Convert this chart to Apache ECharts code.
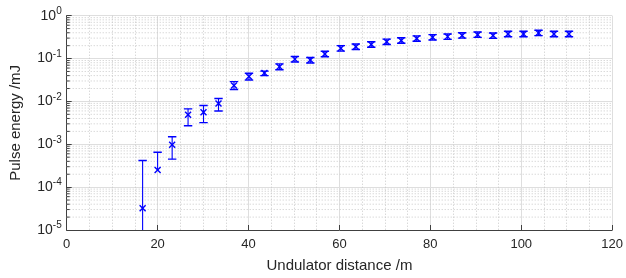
<!DOCTYPE html>
<html>
<head>
<meta charset="utf-8">
<script src="https://cdn.jsdelivr.net/npm/echarts@6/dist/echarts.min.js"></script>
<style>
  html, body { margin: 0; padding: 0; background: #fff; }
  #chart { width: 626px; height: 278px; }
</style>
</head>
<body>
<div id="chart"></div>
<script>
// undulator distance (m) of each measurement
const distance = [16.7, 20.0, 23.2, 26.7, 30.1, 33.4, 36.8, 40.1, 43.5, 46.8,
  50.2, 53.6, 56.8, 60.3, 63.6, 67.0, 70.4, 73.6, 77.0, 80.5,
  83.8, 87.0, 90.4, 93.8, 97.1, 100.5, 103.8, 107.2, 110.5];
// pulse energy (mJ)
const energy = [3.2e-5, 2.5e-4, 9.7e-4, 4.9e-3, 5.6e-3, 9.0e-3, 2.36e-2, 3.8e-2, 4.6e-2, 6.4e-2,
  9.7e-2, 9.2e-2, 0.128, 0.173, 0.189, 0.213, 0.246, 0.264, 0.293, 0.313,
  0.325, 0.347, 0.361, 0.343, 0.375, 0.375, 0.395, 0.375, 0.375];
// error bar ends (null = lower end not positive, not drawn)
const upper = [4.2e-4, 6.5e-4, 1.5e-3, 6.7e-3, 8.0e-3, 1.17e-2, 2.9e-2, 4.55e-2, 5.1e-2, 7.5e-2,
  0.112, 0.106, 0.148, 0.200, 0.218, 0.246, 0.284, 0.305, 0.338, 0.362,
  0.375, 0.400, 0.417, 0.396, 0.433, 0.433, 0.456, 0.433, 0.433];
const lower = [5e-6, null, 4.5e-4, 2.7e-3, 3.2e-3, 6.0e-3, 1.9e-2, 3.15e-2, 4.0e-2, 5.5e-2,
  8.3e-2, 7.9e-2, 0.110, 0.149, 0.163, 0.184, 0.212, 0.228, 0.253, 0.270,
  0.280, 0.300, 0.312, 0.296, 0.324, 0.324, 0.342, 0.324, 0.324];

// minor grid values of the log axis
const minorY = [];
for (let e = -5; e < 0; e++) {
  for (let k = 2; k <= 9; k++) minorY.push(k * Math.pow(10, e));
}

const blue = '#0000ff';
const font = 'Liberation Sans, Arial, Helvetica, sans-serif';

const chart = echarts.init(document.getElementById('chart'), null, { renderer: 'canvas' });

const rows = distance.map((d, i) => [d, energy[i], lower[i] == null ? '-' : lower[i], upper[i]]);

function renderErrorBar(params, api) {
  const x = api.value(0);
  const v = api.value(1);
  const lo = api.value(2);
  const hi = api.value(3);
  const p = api.coord([x, v]);
  const pHi = api.coord([x, hi]);
  const cap = 4.2, m = 3;
  const style = { stroke: blue, lineWidth: 1.1, fill: null };
  const mark = { stroke: blue, lineWidth: 1.4, fill: null };
  const children = [
    { type: 'line', shape: { x1: p[0], y1: p[1], x2: pHi[0], y2: pHi[1] }, style },
    { type: 'line', shape: { x1: p[0] - cap, y1: pHi[1], x2: p[0] + cap, y2: pHi[1] }, style: mark }
  ];
  if (isFinite(lo) && lo > 0) {
    const pLo = api.coord([x, lo]);
    children.push(
      { type: 'line', shape: { x1: p[0], y1: p[1], x2: pLo[0], y2: pLo[1] }, style },
      { type: 'line', shape: { x1: p[0] - cap, y1: pLo[1], x2: p[0] + cap, y2: pLo[1] }, style: mark }
    );
  }
  children.push(
    { type: 'line', shape: { x1: p[0] - m, y1: p[1] - m, x2: p[0] + m, y2: p[1] + m }, style: mark },
    { type: 'line', shape: { x1: p[0] - m, y1: p[1] + m, x2: p[0] + m, y2: p[1] - m }, style: mark }
  );
  return { type: 'group', children };
}

function renderMinorGrid(params, api) {
  const cs = params.coordSys;
  const y = api.coord([0, api.value(0)])[1];
  return {
    type: 'group',
    children: [
      { type: 'line', silent: true,
        shape: { x1: cs.x, y1: y, x2: cs.x + cs.width, y2: y },
        style: { stroke: '#c8c8c8', lineWidth: 1, lineDash: [1, 2] } },
      { type: 'line', silent: true,
        shape: { x1: cs.x, y1: y, x2: cs.x + 3, y2: y },
        style: { stroke: '#404040', lineWidth: 1 } }
    ]
  };
}

chart.setOption({
  animation: false,
  backgroundColor: '#fff',
  grid: { left: 66.7, right: 9.5, top: 15.7, bottom: 44, containLabel: false },
  xAxis: {
    type: 'value', min: 0, max: 120, interval: 20,
    name: 'Undulator distance /m', nameLocation: 'middle', nameGap: 28,
    nameTextStyle: { fontFamily: font, fontSize: 15, color: '#262626' },
    axisLine: { onZero: false, lineStyle: { color: '#404040', width: 1 } },
    axisTick: { inside: true, length: 5, lineStyle: { color: '#404040' } },
    axisLabel: { fontFamily: font, fontSize: 13, color: '#262626', margin: 8 },
    splitLine: { show: true, lineStyle: { color: '#dedede', width: 1 } },
    minorTick: { show: false, splitNumber: 4 },
    minorSplitLine: { show: true, lineStyle: { color: '#c8c8c8', width: 1, type: [1, 2] } }
  },
  yAxis: {
    type: 'log', logBase: 10, min: 1e-5, max: 1,
    name: 'Pulse energy /mJ', nameLocation: 'middle', nameGap: 43,
    nameTextStyle: { fontFamily: font, fontSize: 15, color: '#262626' },
    axisLine: { show: true, lineStyle: { color: '#404040', width: 1 } },
    axisTick: { inside: true, length: 5, lineStyle: { color: '#404040' } },
    axisLabel: {
      margin: 5,
      formatter: v => '{b|10}{s|' + Math.round(Math.log10(v)) + '}',
      rich: {
        b: { fontFamily: font, fontSize: 14, color: '#262626', lineHeight: 17 },
        s: { fontFamily: font, fontSize: 10, color: '#262626', lineHeight: 17, padding: [0, 0, 9, 0] }
      }
    },
    splitLine: { show: true, lineStyle: { color: '#dedede', width: 1 } }
  },
  series: [
    {
      type: 'custom', name: 'minor grid', silent: true, z: 1,
      data: minorY.map(v => [v]),
      encode: { y: 0 },
      renderItem: renderMinorGrid
    },
    {
      type: 'custom', name: 'Pulse energy', z: 5, clip: true,
      data: rows,
      encode: { x: 0, y: [1, 2, 3] },
      renderItem: renderErrorBar
    }
  ]
});
</script>
</body>
</html>
